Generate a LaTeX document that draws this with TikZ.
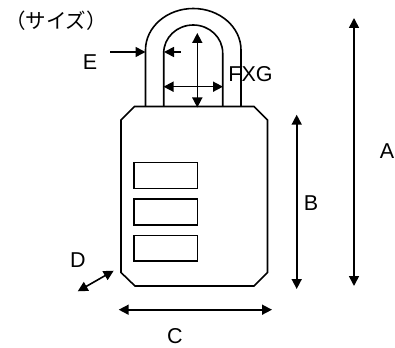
\documentclass[tikz,border=0pt]{standalone}
\usepackage{fontspec}
\setmainfont{Liberation Sans}
\newfontfamily\cjk{Noto Sans CJK JP}
\usetikzlibrary{arrows.meta}
\tikzset{
  x=1pt,y=-1pt,
  outline/.style={draw=black,line width=1.6pt,line join=miter},
  dim/.style={draw=black,line width=1.6pt,{Triangle[length=10pt,width=10pt]}-{Triangle[length=10pt,width=10pt]}},
  lead/.style={draw=black,line width=1.6pt,-{Triangle[length=10pt,width=10pt]}},
  lbl/.style={font=\fontsize{21.5}{21.5}\selectfont,inner sep=0pt,text=black}
}
\begin{document}
\begin{tikzpicture}
\useasboundingbox (0,0) rectangle (395,347);
% shackle
\draw[outline] (145.5,106.5) -- (145.5,50) arc[start angle=180,end angle=360,x radius=47.75,y radius=41.5] -- (241,106.5);
\draw[outline] (163.7,106.5) -- (163.7,53) arc[start angle=180,end angle=360,x radius=29.5,y radius=28] -- (222.7,106.5);
% body
\draw[outline] (134.5,106.5) -- (254,106.5) -- (267.5,120) -- (267.5,272.5) -- (254,286) -- (135,286) -- (121,272.5) -- (121,120) -- cycle;
\draw[outline] (134,162.7) rectangle (197.5,188.3);
\draw[outline] (134,199) rectangle (197.5,225);
\draw[outline] (134,235.3) rectangle (197.5,261);
% coordinates
\coordinate (Ea) at (110,52); \coordinate (Eb) at (145.5,52);
\coordinate (Ec) at (180.5,52); \coordinate (Ed) at (164,52);
\coordinate (Va) at (197.3,33); \coordinate (Vb) at (197.3,107.5);
\coordinate (Ha) at (163.5,86.7); \coordinate (Hb) at (223,86.7);
\coordinate (Aa) at (354,18); \coordinate (Ab) at (354,286);
\coordinate (Ba) at (296.7,114.7); \coordinate (Bb) at (296.7,289);
\coordinate (Ca) at (118.7,309.7); \coordinate (Cb) at (272,309.7);
\coordinate (Da) at (77.7,291.3); \coordinate (Db) at (113.7,270.7);
\draw[lead] (Ea) -- (Eb);
\draw[lead] (Ec) -- (Ed);
\draw[dim] (Va) -- (Vb);
\draw[dim] (Ha) -- (Hb);
\draw[dim] (Aa) -- (Ab);
\draw[dim] (Ba) -- (Bb);
\draw[dim] (Ca) -- (Cb);
\draw[dim] (Da) -- (Db);
% labels
\node[inner sep=0pt,font=\cjk\fontsize{20.5}{20.5}\selectfont] (title) at (56,21) {（サイズ）};
\node[lbl] (E) at (90,62) {E};
\node[lbl] (F) at (250.5,74) {FXG};
\node[lbl] (A) at (387,151) {A};
\node[lbl] (B) at (311,203) {B};
\node[lbl] (C) at (175,336) {C};
\node[lbl] (D) at (78,260) {D};
\end{tikzpicture}
\end{document}
